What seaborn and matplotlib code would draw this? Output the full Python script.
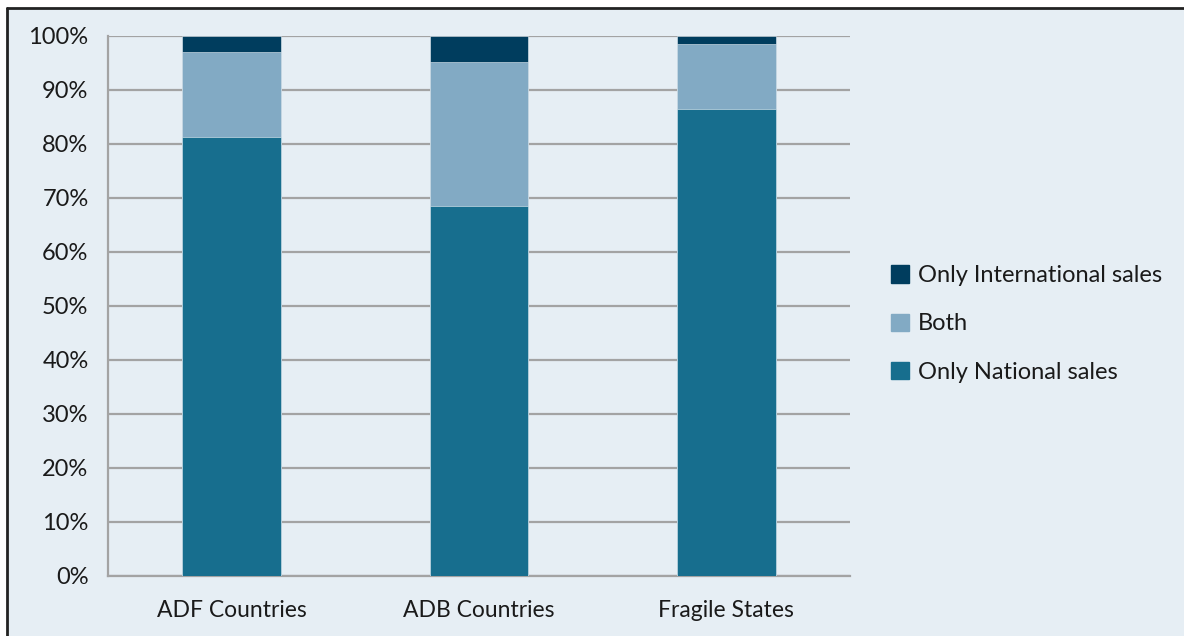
import matplotlib.pyplot as plt
import matplotlib.patches as mpatches
import matplotlib.lines as mlines
import pandas as pd
import seaborn as sns

# Share of firms by type of sales.
categories = ['ADF Countries', 'ADB Countries', 'Fragile States']
national = [81.3, 68.5, 86.5]
both = [15.7, 26.6, 12.0]
international = [3.0, 4.9, 1.5]

series_names = ['Only International sales', 'Both', 'Only National sales']
colors = {'Only National sales': '#176E8E',
          'Both': '#82AAC4',
          'Only International sales': '#003D5E'}
bg = '#E6EEF4'

df = pd.DataFrame({'category': categories,
                   'national': national,
                   'both': both,
                   'international': international})
# Cumulative heights, so layered bars look stacked.
df['top_nat'] = df['national']
df['top_both'] = df['national'] + df['both']
df['top_all'] = df['top_both'] + df['international']

sns.set_style('white')
plt.rcParams['font.family'] = ['Lato', 'DejaVu Sans']

W, H = 1184, 636
fig = plt.figure(figsize=(W / 100, H / 100), dpi=100, facecolor='white')

# Panel background with a dark rule on top and left, white margin outside.
x0, y0 = 7 / W, 1 - 8 / H
fig.patches.append(mpatches.Rectangle((x0, 0), 1 - x0, y0, transform=fig.transFigure,
                                      facecolor=bg, edgecolor='none', zorder=-10))
fig.lines.append(mlines.Line2D([x0, 1], [y0, y0], transform=fig.transFigure,
                               color='#222222', linewidth=2))
fig.lines.append(mlines.Line2D([x0, x0], [0, y0], transform=fig.transFigure,
                               color='#222222', linewidth=2))

ax = fig.add_axes([108 / W, 60 / H, 742 / W, 540 / H])
ax.set_facecolor(bg)

for col, name in [('top_all', 'Only International sales'),
                  ('top_both', 'Both'),
                  ('top_nat', 'Only National sales')]:
    sns.barplot(data=df, x='category', y=col, color=colors[name],
                width=0.4, saturation=1, ax=ax, zorder=3,
                edgecolor=bg, linewidth=0.4)

ax.set_ylim(0, 100)
ax.set_xlim(-0.5, 2.5)
ax.set_yticks(range(0, 101, 10))
ax.set_yticklabels([f'{v}%' for v in range(0, 101, 10)])
ax.yaxis.grid(True, color='#A3A3A3', linewidth=1.6, zorder=0)
ax.set_axisbelow(True)
ax.set_xlabel('')
ax.set_ylabel('')

# Category boundary ticks on the x axis, like the original.
ax.set_xticks([-0.5, 0.5, 1.5, 2.5], minor=True)
ax.set_xticks([0, 1, 2])
ax.tick_params(axis='x', which='major', length=0, pad=17, labelsize=16.5, labelcolor='#1A1A1A')
ax.tick_params(axis='x', which='minor', length=8, width=1.2, color='#A3A3A3', direction='out')
ax.tick_params(axis='y', length=7, width=1.2, color='#A3A3A3', labelsize=17,
               labelcolor='#1A1A1A', pad=7)

for side in ['top', 'right']:
    ax.spines[side].set_visible(False)
ax.spines['left'].set_color('#A3A3A3')
ax.spines['left'].set_linewidth(1.6)
ax.spines['bottom'].set_color('#A3A3A3')
ax.spines['bottom'].set_linewidth(1.6)

handles = [mpatches.Patch(color=colors[n], label=n) for n in series_names]
fig.legend(handles=handles, loc='center left', bbox_to_anchor=(879 / W, 1 - 324 / H),
           frameon=False, fontsize=17, handlelength=0.75, handleheight=0.75,
           handletextpad=0.4, labelspacing=1.15, borderpad=0,
           labelcolor='#1A1A1A')

plt.savefig('out.png', dpi=100, facecolor='white')
